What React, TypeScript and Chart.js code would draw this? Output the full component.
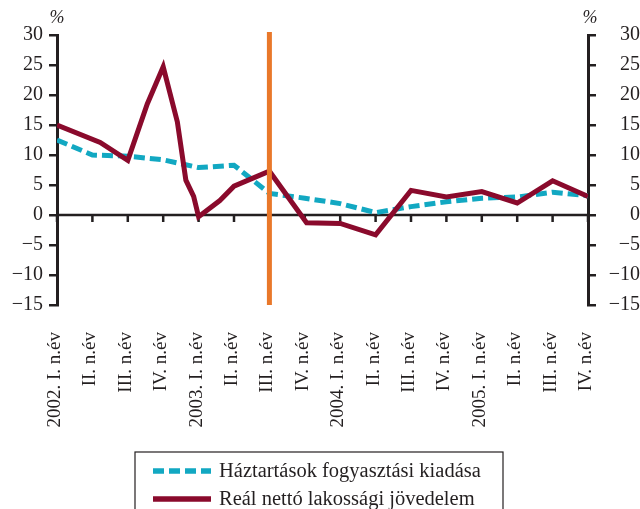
import React, { useEffect, useRef } from "react";
import { Chart, registerables } from "chart.js";

Chart.register(...registerables);

// ---- data ----
const quarterLabels = [
  "2002. I. n.év", "II. n.év", "III. n.év", "IV. n.év",
  "2003. I. n.év", "II. n.év", "III. n.év", "IV. n.év",
  "2004. I. n.év", "II. n.év", "III. n.év", "IV. n.év",
  "2005. I. n.év", "II. n.év", "III. n.év", "IV. n.év",
];
const consumption = [12.5, 10.0, 9.8, 9.2, 7.9, 8.3, 3.6, 2.8, 1.9, 0.4, 1.4, 2.2, 2.8, 3.0, 3.8, 3.2];
const incomeX = [0, 1.22, 2, 2.55, 3, 3.4, 3.64, 3.86, 4, 4.6, 5, 6, 7.05, 8, 9, 10, 11, 12, 13, 14, 15];
const incomeY = [15, 12.1, 9.1, 18.5, 24.7, 15.5, 5.8, 3.1, -0.3, 2.4, 4.8, 7.3, -1.3, -1.4, -3.3, 4.1, 3.0, 3.9, 2.0, 5.7, 3.1];
const markerX = 6;
const markerRange = [-15, 30.5];
const seriesNames = ["Háztartások fogyasztási kiadása", "Reál nettó lakossági jövedelem"];
const unitLabel = "%";
const yMin = -15;
const yMax = 30;
const yStep = 5;

const TEXT = "#231f20";
const CYAN = "#12a8c2";
const RED = "#8a0a2c";
const ORANGE = "#e9782a";
const FONT = "'Liberation Serif', 'Times New Roman', serif";

const fmt = (v: number) => (v < 0 ? "\u2212" + Math.abs(v) : String(v));

const axisPlugin = {
  id: "zeroAxis",
  beforeDatasetsDraw(chart: any) {
    const { ctx, chartArea, scales } = chart;
    const y0 = scales.y.getPixelForValue(0);
    ctx.save();
    ctx.strokeStyle = TEXT;
    ctx.lineWidth = 2.5;
    ctx.beginPath();
    ctx.moveTo(chartArea.left, y0);
    ctx.lineTo(chartArea.right, y0);
    for (let i = 0; i < quarterLabels.length; i++) {
      const x = scales.x.getPixelForValue(i);
      ctx.moveTo(x, y0);
      ctx.lineTo(x, y0 + 7);
    }
    ctx.stroke();
    ctx.restore();
  },
  afterDraw(chart: any) {
    const { ctx, chartArea } = chart;
    ctx.save();
    ctx.fillStyle = TEXT;
    ctx.font = `italic 18px ${FONT}`;
    ctx.textAlign = "center";
    ctx.textBaseline = "middle";
    ctx.fillText(unitLabel, chartArea.left, 18);
    ctx.fillText(unitLabel, chartArea.right + 2, 18);

    // legend
    const boxL = 135, boxT = 452, boxR = 503, boxB = 515;
    ctx.strokeStyle = TEXT;
    ctx.lineWidth = 1.2;
    ctx.strokeRect(boxL, boxT, boxR - boxL, boxB - boxT);
    const items = [chart.data.datasets[2], chart.data.datasets[1]];
    items.forEach((ds: any, i: number) => {
      const cy = 471 + i * 28;
      ctx.save();
      ctx.strokeStyle = ds.borderColor;
      ctx.lineWidth = 5.5;
      ctx.setLineDash(ds.borderDash || []);
      ctx.beginPath();
      ctx.moveTo(153, cy);
      ctx.lineTo(211, cy);
      ctx.stroke();
      ctx.restore();
      ctx.fillStyle = TEXT;
      ctx.font = `20.5px ${FONT}`;
      ctx.textAlign = "left";
      ctx.textBaseline = "middle";
      ctx.fillText(ds.label, 219, cy + 1);
    });
    ctx.restore();
  },
};

export default function App() {
  const ref = useRef<HTMLCanvasElement | null>(null);
  useEffect(() => {
    if (!ref.current) return;
    const tickFont = { family: FONT, size: 20 };
    const yCommon = {
      type: "linear" as const,
      min: yMin,
      max: yMax,
      ticks: {
        stepSize: yStep,
        color: TEXT,
        font: tickFont,
        padding: 6,
        callback: (v: any) => fmt(Number(v)),
      },
      grid: { drawOnChartArea: false, drawTicks: true, tickLength: 8, color: TEXT, lineWidth: 2.5 },
      border: { display: true, color: TEXT, width: 3 },
    };
    const chart = new Chart(ref.current, {
      type: "line",
      data: {
        datasets: [
          {
            label: "marker",
            data: markerRange.map((y) => ({ x: markerX, y })),
            borderColor: ORANGE,
            borderWidth: 5,
            pointRadius: 0,
            clip: false as any,
          },
          {
            label: seriesNames[1],
            data: incomeX.map((x, i) => ({ x, y: incomeY[i] })),
            borderColor: RED,
            borderWidth: 5,
            pointRadius: 0,
            borderJoinStyle: "miter",
            tension: 0,
          },
          {
            label: seriesNames[0],
            data: consumption.map((y, i) => ({ x: i, y })),
            borderColor: CYAN,
            borderWidth: 5,
            borderDash: [11, 5],
            pointRadius: 0,
            tension: 0,
          },
        ],
      },
      options: {
        animation: false,
        responsive: true,
        maintainAspectRatio: false,
        layout: { padding: { top: 35, left: 0, right: 0, bottom: 0 } },
        plugins: { legend: { display: false }, tooltip: { enabled: false } },
        scales: {
          x: {
            type: "linear",
            min: 0,
            max: quarterLabels.length - 1,
            grid: { display: false, drawTicks: false },
            border: { display: false },
            ticks: {
              stepSize: 1,
              autoSkip: false,
              maxRotation: 90,
              minRotation: 90,
              padding: 27,
              labelOffset: -2,
              color: TEXT,
              font: { family: FONT, size: 19 },
              callback: (v: any) => quarterLabels[Number(v)] ?? "",
            },
            afterFit: (s: any) => { s.height = 204; },
          },
          y: {
            ...yCommon,
            position: "left",
            afterFit: (s: any) => { s.width = 57; },
          },
          y2: {
            ...yCommon,
            position: "right",
            ticks: { ...yCommon.ticks, crossAlign: "far" },
            afterFit: (s: any) => { s.width = 52; },
          },
        },
      } as any,
      plugins: [axisPlugin],
    });
    return () => chart.destroy();
  }, []);
  return (
    <div style={{ position: "absolute", left: 0, top: 0, width: 640, height: 509 }}>
      <canvas ref={ref} />
    </div>
  );
}
